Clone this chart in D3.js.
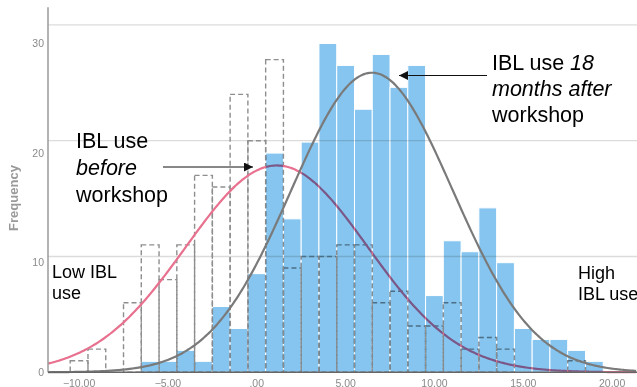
<!DOCTYPE html>
<html lang="en">
<head>
    <meta charset="UTF-8">
    <title>IBL use histogram</title>
    <script src="https://d3js.org/d3.v7.min.js"></script>
    <style>
        body {
            margin: 0;
            padding: 0;
            background: #fff;
        }
        svg {
            display: block;
            font-family: "Liberation Sans", Arial, sans-serif;
        }
        .after-bars {
            mix-blend-mode: multiply;
        }
    </style>
</head>
<body>
    <svg id="chart" width="637" height="387"></svg>

    <script>
        // bin centres (width 1) and counts
        const afterBins = d3.range(-6, 20);
        const afterCounts = [1, 1, 2, 1, 6, 4, 9, 20, 14, 21, 30, 28, 24, 29, 26, 28, 7, 12, 11, 15, 10, 4, 3, 3, 2, 1];

        const beforeBins = d3.range(-10, 19);
        const beforeCounts = [1, 2, 0, 6, 11, 8, 11, 17, 16, 24, 20, 27, 9, 10, 10, 11, 11, 6, 7, 4, 4, 6, 2, 3, 2, 0, 0, 0, 1];

        const xTicks = [-10, -5, 0, 5, 10, 15, 20];
        const yTicks = [0, 10, 20, 30];
        const gridTicks = [10, 20, 30];

        const svg = d3.select("#chart");

        const x = d3.scaleLinear().domain([-11.75, 21.4]).range([48, 637]);
        // the two overlaid SPSS charts do not share a y scale
        const yAfter = d3.scaleLinear().domain([0, 33.3]).range([372.3, 7.3]);
        const yBefore = d3.scaleLinear().domain([0, 31.5]).range([372.3, 7.5]);

        const stats = (bins, counts) => {
            const n = d3.sum(counts);
            const mean = d3.sum(bins, (b, i) => b * counts[i]) / n;
            const v = d3.sum(bins, (b, i) => counts[i] * (b - mean) ** 2) / (n - 1);
            return { n, mean, sd: Math.sqrt(v) };
        };

        const normalLine = (s, yScale) => {
            const pts = d3.range(-11.75, 21.45, 0.1).map(v => {
                const z = (v - s.mean) / s.sd;
                return [v, s.n / (s.sd * Math.sqrt(2 * Math.PI)) * Math.exp(-0.5 * z * z)];
            });
            return d3.line().x(d => x(d[0])).y(d => yScale(d[1])).curve(d3.curveBasis)(pts);
        };

        // gridlines
        svg.append("g").selectAll("line").data(gridTicks).join("line")
            .attr("x1", x.range()[0]).attr("x2", x.range()[1])
            .attr("y1", d => yBefore(d)).attr("y2", d => yBefore(d))
            .attr("stroke", "#dcdcdc").attr("stroke-width", 1.3);

        // before workshop: dashed outline bars
        const before = beforeBins.map((b, i) => ({ b, c: beforeCounts[i] })).filter(d => d.c > 0);
        svg.append("g").selectAll("rect").data(before).join("rect")
            .attr("x", d => x(d.b - 0.5))
            .attr("y", d => yBefore(d.c))
            .attr("width", d => x(d.b + 0.5) - x(d.b - 0.5))
            .attr("height", d => yBefore(0) - yBefore(d.c))
            .attr("fill", "none")
            .attr("stroke", "#8e8e8e")
            .attr("stroke-width", 1.4)
            .attr("stroke-dasharray", "5,3");

        svg.append("path")
            .attr("d", normalLine(stats(beforeBins, beforeCounts), yBefore))
            .attr("fill", "none")
            .attr("stroke", "#e8718f")
            .attr("stroke-width", 2.2);

        // 18 months after: filled bars, multiplied over what is below
        svg.append("g").attr("class", "after-bars")
            .selectAll("rect").data(afterBins.map((b, i) => ({ b, c: afterCounts[i] }))).join("rect")
            .attr("x", d => x(d.b - 0.5))
            .attr("y", d => yAfter(d.c))
            .attr("width", d => x(d.b + 0.5) - x(d.b - 0.5))
            .attr("height", d => yAfter(0) - yAfter(d.c))
            .attr("fill", "#86c5ef")
            .attr("stroke", "#ffffff")
            .attr("stroke-width", 1);

        svg.append("path")
            .attr("d", normalLine(stats(afterBins, afterCounts), yAfter))
            .attr("fill", "none")
            .attr("stroke", "#7a7a7a")
            .attr("stroke-width", 2.2);

        // axes
        svg.append("line")
            .attr("x1", 48).attr("x2", 48)
            .attr("y1", yAfter.range()[1]).attr("y2", yAfter(0))
            .attr("stroke", "#9a9a9a").attr("stroke-width", 1.5);
        svg.append("line")
            .attr("x1", x.range()[0]).attr("x2", x.range()[1])
            .attr("y1", yAfter(0)).attr("y2", yAfter(0))
            .attr("stroke", "#666").attr("stroke-width", 1.5);

        svg.append("g").selectAll("text").data(yTicks).join("text")
            .attr("x", 44).attr("y", d => yAfter(d))
            .attr("dy", "0.35em")
            .attr("text-anchor", "end")
            .attr("font-size", 10.5)
            .attr("fill", "#8a8a8a")
            .text(d => d);

        svg.append("g").selectAll("text").data(xTicks).join("text")
            .attr("x", d => x(d)).attr("y", 386.5)
            .attr("text-anchor", "middle")
            .attr("font-size", 10.5)
            .attr("fill", "#8a8a8a")
            .text(d => d === 0 ? ".00" : d3.format(".2f")(d));

        svg.append("text")
            .attr("transform", "translate(18,198) rotate(-90)")
            .attr("text-anchor", "middle")
            .attr("font-size", 13)
            .attr("font-weight", "bold")
            .attr("fill", "#9a9a9a")
            .text("Frequency");

        // annotations
        const defs = svg.append("defs");
        defs.append("marker")
            .attr("id", "arrow")
            .attr("viewBox", "0 0 10 10")
            .attr("refX", 10).attr("refY", 5)
            .attr("markerWidth", 9).attr("markerHeight", 9)
            .attr("markerUnits", "userSpaceOnUse")
            .attr("orient", "auto")
            .append("path").attr("d", "M0,0L10,5L0,10Z").attr("fill", "#111");

        const note = (lines, x0, y0, dy, size) => {
            const t = svg.append("text").attr("font-size", size).attr("fill", "#000");
            lines.forEach((parts, i) => {
                parts.forEach((p, j) => {
                    const ts = t.append("tspan").text(p.t);
                    if (j === 0) ts.attr("x", x0).attr("y", y0 + i * dy);
                    if (p.i) ts.attr("font-style", "italic");
                });
            });
        };

        note([[{ t: "IBL use" }], [{ t: "before", i: true }], [{ t: "workshop" }]], 76, 148, 26.8, 21.5);
        note([[{ t: "IBL use " }, { t: "18", i: true }], [{ t: "months after", i: true }], [{ t: "workshop" }]], 492, 69.5, 26.2, 21.5);
        note([[{ t: "Low IBL" }], [{ t: "use" }]], 52, 278.3, 20.2, 18);
        note([[{ t: "High" }], [{ t: "IBL use" }]], 578, 279.3, 20.2, 18);

        svg.append("line")
            .attr("x1", 163).attr("x2", 253).attr("y1", 167).attr("y2", 167)
            .attr("stroke", "#111").attr("stroke-width", 1)
            .attr("marker-end", "url(#arrow)");
        svg.append("line")
            .attr("x1", 487).attr("x2", 399).attr("y1", 75.5).attr("y2", 75.5)
            .attr("stroke", "#111").attr("stroke-width", 1)
            .attr("marker-end", "url(#arrow)");
    </script>
</body>
</html>
